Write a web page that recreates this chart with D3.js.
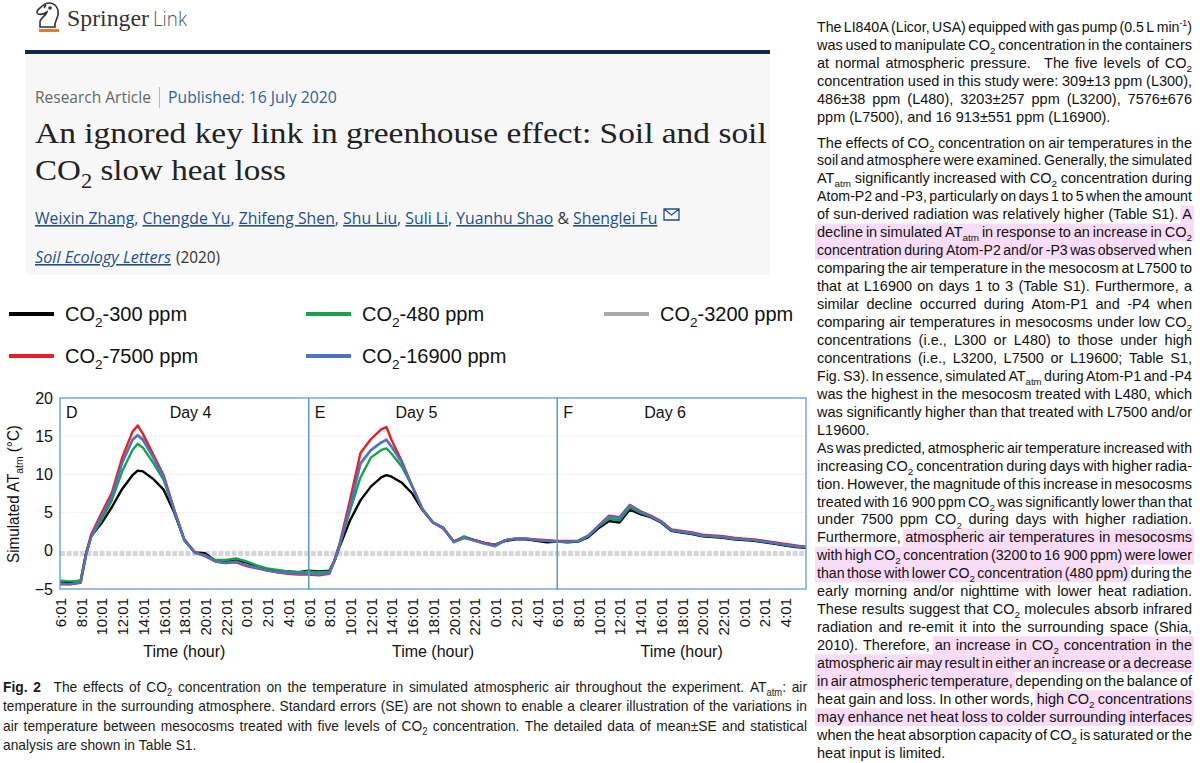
<!DOCTYPE html>
<html>
<head>
<meta charset="utf-8">
<script src="https://cdn.jsdelivr.net/npm/d3@7"></script>
<style>
  body { margin: 0; background: #fff; }
  svg { display: block; }
</style>
</head>
<body>
<svg id="fig" width="1200" height="763"></svg>
<script>
// ---- data ----
const hours = [
  0, 1, 2, 2.5, 3, 4, 5, 6, 7, 7.5, 8, 9, 10, 11, 12, 13, 14, 15, 16, 17, 18, 19, 20, 21, 22, 23, 24,
  25, 26, 26.5, 27, 28, 29, 30, 31, 31.5, 32, 33, 34, 35, 36, 37, 38, 39, 40, 41, 42, 43, 44, 45, 46, 47, 48,
  49, 50, 51, 52, 53, 54, 55, 56, 57, 58, 59, 60, 61, 62, 63, 64, 65, 66, 67, 68, 69, 70, 71, 72
];

const co2_300 = [
  -4.0, -4.1, -3.9, -0.4, 1.9, 3.6, 5.7, 8.1, 9.9, 10.5, 10.4, 9.4, 8.0, 5.1, 1.4, -0.2, -0.3, -1.3, -1.4, -1.2, -1.5, -2.0, -2.4, -2.6, -2.7, -2.8, -2.6,
  -2.7, -2.6, -1.3, 0.6, 4.0, 6.6, 8.4, 9.6, 9.9, 9.7, 8.9, 7.5, 5.3, 3.7, 3.0, 1.2, 1.8, 1.4, 1.0, 0.8, 1.3, 1.5, 1.5, 1.3, 1.1, 1.2,
  1.1, 1.2, 1.8, 3.0, 3.9, 3.7, 5.4, 4.8, 4.4, 3.7, 2.6, 2.4, 2.2, 1.9, 1.8, 1.7, 1.5, 1.4, 1.3, 1.1, 0.9, 0.7, 0.5, 0.4
];
const co2_480 = [
  -3.9, -4.0, -3.9, -0.5, 1.8, 4.0, 6.6, 10.4, 13.2, 14.0, 13.5, 11.5, 9.3, 5.4, 1.4, -0.2, -0.6, -1.2, -1.2, -1.0, -1.4, -1.9, -2.3, -2.5, -2.7, -2.8, -2.7,
  -2.8, -2.7, -1.2, 0.8, 5.3, 9.6, 12.2, 13.2, 13.4, 12.7, 11.0, 8.4, 5.4, 3.7, 3.0, 1.2, 1.9, 1.4, 1.0, 0.8, 1.4, 1.6, 1.6, 1.4, 1.3, 1.2,
  1.2, 1.2, 1.9, 3.2, 4.2, 4.0, 5.7, 5.0, 4.5, 3.8, 2.7, 2.5, 2.3, 2.0, 1.9, 1.8, 1.6, 1.5, 1.4, 1.2, 1.0, 0.8, 0.6, 0.5
];
const co2_3200 = [
  -4.2, -4.3, -4.1, -0.6, 1.9, 4.6, 7.2, 11.6, 14.6, 15.2, 14.7, 12.3, 9.6, 5.4, 1.4, -0.2, -0.6, -1.3, -1.5, -1.3, -1.8, -2.1, -2.5, -2.7, -2.9, -3.0, -3.0,
  -3.0, -2.9, -1.3, 0.8, 5.7, 11.3, 13.1, 14.1, 14.6, 13.7, 11.6, 8.5, 5.4, 3.7, 3.0, 1.2, 1.8, 1.4, 1.0, 0.7, 1.4, 1.6, 1.6, 1.4, 1.3, 1.2,
  1.2, 1.3, 2.0, 3.3, 4.5, 4.3, 6.0, 5.1, 4.5, 3.8, 2.7, 2.5, 2.3, 2.0, 1.9, 1.8, 1.6, 1.5, 1.4, 1.2, 1.0, 0.8, 0.6, 0.5
];
const co2_7500 = [
  -4.4, -4.4, -4.2, -0.5, 2.1, 4.9, 7.6, 12.2, 15.6, 16.4, 15.3, 12.6, 9.9, 5.5, 1.5, -0.2, -0.7, -1.4, -1.6, -1.5, -2.0, -2.3, -2.6, -2.8, -3.0, -3.1, -3.1,
  -3.2, -3.0, -1.2, 1.0, 6.7, 12.8, 14.6, 15.9, 16.2, 14.5, 11.7, 8.4, 5.4, 3.7, 2.9, 1.2, 1.7, 1.4, 1.0, 0.7, 1.4, 1.6, 1.6, 1.5, 1.4, 1.3,
  1.3, 1.3, 2.0, 3.3, 4.6, 4.4, 6.0, 5.2, 4.6, 3.9, 2.8, 2.6, 2.4, 2.1, 2.0, 1.9, 1.7, 1.6, 1.5, 1.3, 1.1, 0.9, 0.7, 0.5
];
const co2_16900 = [
  -4.3, -4.4, -4.1, -0.7, 1.8, 4.5, 7.1, 11.5, 14.5, 15.1, 14.5, 12.2, 9.6, 5.4, 1.4, -0.3, -0.6, -1.4, -1.6, -1.4, -1.9, -2.2, -2.6, -2.8, -2.9, -3.0, -3.0,
  -3.1, -2.9, -1.3, 0.8, 5.8, 11.5, 13.2, 14.2, 14.5, 13.6, 11.5, 8.4, 5.4, 3.7, 3.0, 1.1, 1.7, 1.3, 0.9, 0.6, 1.4, 1.6, 1.6, 1.4, 1.3, 1.2,
  1.2, 1.3, 2.0, 3.3, 4.5, 4.3, 6.0, 5.1, 4.5, 3.8, 2.7, 2.5, 2.3, 2.0, 1.9, 1.8, 1.6, 1.5, 1.4, 1.2, 1.0, 0.8, 0.6, 0.5
];

const seriesKeys = ['300', '480', '3200', '7500', '16900'];
const seriesLabels = ['CO~2~-300 ppm', 'CO~2~-480 ppm', 'CO~2~-3200 ppm', 'CO~2~-7500 ppm', 'CO~2~-16900 ppm'];
const seriesValues = [co2_300, co2_480, co2_3200, co2_7500, co2_16900];

const panelLetters = ['D', 'E', 'F'];
const dayLabels = ['Day 4', 'Day 5', 'Day 6'];
const tickLabels = ['6:01', '8:01', '10:01', '12:01', '14:01', '16:01', '18:01', '20:01', '22:01', '0:01', '2:01', '4:01'];
const yTicks = [-5, 0, 5, 10, 15, 20];
const baseLine = -0.35;

const authors = ['Weixin Zhang', 'Chengde Yu', 'Zhifeng Shen', 'Shu Liu', 'Suli Li', 'Yuanhu Shao', 'Shenglei Fu'];

const captionLines = [
  '*Fig. *2 \u2002The effects of CO~2~ concentration on the temperature in simulated atmospheric air throughout the experiment. AT~atm~: air',
  'temperature in the surrounding atmosphere. Standard errors (SE) are not shown to enable a clearer illustration of the variations in',
  'air temperature between mesocosms treated with five levels of CO~2~ concentration. The detailed data of mean\u00b1SE and statistical',
  'analysis are shown in Table S1.'
];

const bodyPara1 = [
  'The LI840A (Licor, USA) equipped with gas pump (0.5 L min^-1^)',
  'was used to manipulate CO~2~ concentration in the containers',
  'at normal atmospheric pressure. \u2002The five levels of CO~2~',
  'concentration used in this study were: 309\u00b113 ppm (L300),',
  '486\u00b138 ppm (L480), 3203\u00b1257 ppm (L3200), 7576\u00b1676',
  'ppm (L7500), and 16\u00a0913\u00b1551 ppm (L16900).'
];
const bodyPara2 = [
  'The effects of CO~2~ concentration on air temperatures in the',
  'soil and atmosphere were examined. Generally, the simulated',
  'AT~atm~ significantly increased with CO~2~ concentration during',
  'Atom-P2 and -P3, particularly on days 1 to 5 when the amount',
  'of sun-derived radiation was relatively higher (Table S1). \u00abA',
  'decline in simulated AT~atm~ in response to an increase in CO~2~',
  'concentration during Atom-P2 and/or -P3 was observed\u00bb when',
  'comparing the air temperature in the mesocosm at L7500 to',
  'that at L16900 on days 1 to 3 (Table S1). Furthermore, a',
  'similar decline occurred during Atom-P1 and -P4 when',
  'comparing air temperatures in mesocosms under low CO~2~',
  'concentrations (i.e., L300 or L480) to those under high',
  'concentrations (i.e., L3200, L7500 or L19600; Table S1,',
  'Fig. S3). In essence, simulated AT~atm~ during Atom-P1 and -P4',
  'was the highest in the mesocosm treated with L480, which',
  'was significantly higher than that treated with L7500 and/or',
  'L19600.'
];
const bodyPara3 = [
  'As was predicted, atmospheric air temperature increased with',
  'increasing CO~2~ concentration during days with higher radia-',
  'tion. However, the magnitude of this increase in mesocosms',
  'treated with 16\u00a0900 ppm CO~2~ was significantly lower than that',
  'under 7500 ppm CO~2~ during days with higher radiation.',
  'Furthermore, \u00abatmospheric air temperatures in mesocosms',
  'with high CO~2~ concentration (3200 to 16\u00a0900 ppm) were lower',
  'than those with lower CO~2~ concentration (480 ppm)\u00bb during the',
  'early morning and/or nighttime with lower heat radiation.',
  'These results suggest that CO~2~ molecules absorb infrared',
  'radiation and re-emit it into the surrounding space (Shia,',
  '2010). Therefore, \u00aban increase in CO~2~ concentration in the',
  'atmospheric air may result in either an increase or a decrease',
  'in air atmospheric temperature,\u00bb depending on the balance of',
  'heat gain and loss. In other words, \u00abhigh CO~2~ concentrations',
  'may enhance net heat loss to colder surrounding interfaces\u00bb',
  'when the heat absorption capacity of CO~2~ is saturated or the',
  'heat input is limited.'
];

// ---- styles ----
const SANS = "'Liberation Sans', Arial, Helvetica, sans-serif";
const SERIF = "'Liberation Serif', Georgia, 'Times New Roman', serif";
const OPEN = "'Open Sans', 'Liberation Sans', sans-serif";
const colorOf = { '300': '#000000', '480': '#16a34a', '3200': '#a9a9a9', '7500': '#ee1c25', '16900': '#4a74c4' };
const drawOrder = ['3200', '300', '480', '7500', '16900'];
const frameColor = '#5b9bd5';
const linkBlue = '#1d4f8f';

const svg = d3.select('#fig');

// text with ~sub~ and ^sup^ markup
function rich (sel, str, size) {
  const parts = str.split(/(~[^~]*~|\^[^^]*\^)/).filter(s => s.length);
  let shift = 0;
  parts.forEach(p => {
    let dy = 0, fs = null, t = p;
    if (p[0] === '~') { t = p.slice(1, -1); dy = size * 0.28; fs = size * 0.68; }
    else if (p[0] === '^') { t = p.slice(1, -1); dy = -size * 0.4; fs = size * 0.62; }
    const ts = sel.append('tspan').text(t).attr('dy', dy - shift);
    if (fs) ts.attr('font-size', fs);
    shift = dy;
  });
  return sel;
}

function label (parent, x, y, str, opts = {}) {
  const { size = 15, family = SANS, weight = null, fill = '#111', anchor = 'start',
    width = null, rotate = 0, italic = false } = opts;
  const g = parent.append('g')
    .attr('transform', `translate(${x},${y})` + (rotate ? ` rotate(${rotate})` : ''));
  const t = g.append('text')
    .attr('font-size', size)
    .attr('font-family', family)
    .attr('font-weight', weight)
    .attr('font-style', italic ? 'italic' : null)
    .attr('fill', fill)
    .attr('text-anchor', anchor);
  rich(t, str, size);
  if (width) {
    const w = t.node().getComputedTextLength();
    t.attr('transform', `scale(${width / w},1)`);
  }
  return t;
}

// justified block of lines; «...» marks highlighted runs, *word is bold
function justify (parent, paras, opts) {
  const { x, width, lh, size, family = SANS, sx = 1, fill = '#111', hl = '#f8dcf6' } = opts;
  let y = opts.y;
  let on = false;
  paras.forEach(lines => {
    lines.forEach((line, i) => {
      const last = i === lines.length - 1;
      const row = parent.append('g');
      const back = row.append('g');
      const words = line.split(' ').filter(w => w.length).map(raw => {
        let w = raw, bold = false, start = false, end = false;
        if (w.startsWith('\u00ab')) { start = true; w = w.slice(1); }
        if (w.endsWith('\u00bb')) { end = true; w = w.slice(0, -1); }
        if (w.startsWith('*')) { bold = true; w = w.slice(1); }
        if (start) on = true;
        const lit = on;
        if (end) on = false;
        const t = row.append('text')
          .attr('font-size', size)
          .attr('font-family', family)
          .attr('font-weight', bold ? 'bold' : null)
          .attr('fill', fill);
        rich(t, w, size);
        return { t, w: t.node().getComputedTextLength(), lit };
      });
      const natural = d3.sum(words, d => d.w);
      const space = size * 0.278;
      let s = sx;
      let gap = space * sx;
      if (!last && words.length > 1) {
        s = Math.min(sx, (width - space * 0.6 * (words.length - 1)) / natural);
        gap = (width - natural * s) / (words.length - 1);
      }
      let cx = x;
      words.forEach(d => {
        d.x = cx;
        d.t.attr('transform', `translate(${cx},${y}) scale(${s},1)`);
        d.end = cx + d.w * s;
        cx = d.end + gap;
      });
      let run = null;
      const runs = [];
      words.forEach(d => {
        if (d.lit) {
          if (!run) { run = { x0: d.x, x1: d.end }; runs.push(run); } else run.x1 = d.end;
        } else run = null;
      });
      back.selectAll('rect')
        .data(runs)
        .join('rect')
          .attr('x', r => r.x0 - 2)
          .attr('width', r => r.x1 - r.x0 + 4)
          .attr('y', y - size * 0.95)
          .attr('height', lh)
          .attr('fill', hl);
      y += lh;
    });
  });
  return y;
}

// ---- header ----
const head = svg.append('g');
head.append('path')
  .attr('d', 'M40,27 L40,22 C40,18 46,16 47,12 C44,14 41,15 38,14 C36,13 37,10 40,8 C43,5 45,3 49,3 C55,3 59,8 58,15 C57,20 54,22 55,27 Z M44,8 L46,5 M50,9 A1,1 0 1 1 50.1,9')
  .attr('fill', 'none')
  .attr('stroke', '#333')
  .attr('stroke-width', 1.6);
head.append('rect').attr('x', 39).attr('y', 29).attr('width', 20).attr('height', 3).attr('fill', '#e8782a');
label(head, 67, 26, 'Springer', { size: 24, family: SERIF, fill: '#333', width: 82 });
label(head, 153, 26, 'Link', { size: 21, family: OPEN, fill: '#555', weight: 300, width: 34 });

head.append('rect').attr('x', 25).attr('y', 55).attr('width', 745).attr('height', 220).attr('fill', '#f7f7f7');
head.append('rect').attr('x', 25).attr('y', 50).attr('width', 745).attr('height', 4).attr('fill', '#15284a');

label(head, 35, 103, 'Research Article', { size: 16, family: OPEN, fill: '#666', width: 116 });
head.append('line').attr('x1', 159.5).attr('x2', 159.5).attr('y1', 87).attr('y2', 108).attr('stroke', '#bbb');
label(head, 168, 103, 'Published: 16 July 2020', { size: 16, family: OPEN, fill: '#2f6299', width: 169 });

label(head, 35, 143, 'An ignored key link in greenhouse effect: Soil and soil', { size: 30, family: SERIF, fill: '#222', width: 732 });
label(head, 35, 180, 'CO~2~ slow heat loss', { size: 30, family: SERIF, fill: '#222', width: 251 });

const au = head.append('text')
  .attr('x', 35).attr('y', 224)
  .attr('font-size', 16).attr('font-family', OPEN).attr('fill', linkBlue);
authors.forEach((a, i) => {
  au.append('tspan').text(a).style('text-decoration', 'underline');
  if (i < authors.length - 2) au.append('tspan').text(', ');
  else if (i === authors.length - 2) au.append('tspan').attr('fill', '#333').text(' & ');
});
const auW = au.node().getComputedTextLength();
au.attr('transform', `translate(35,224) scale(${623 / auW},1) translate(-35,-224)`);
head.append('path')
  .attr('d', 'M664,209 h15 v11 h-15 Z M664,209 l7.5,6 l7.5,-6')
  .attr('fill', 'none').attr('stroke', linkBlue).attr('stroke-width', 1.3);

const jt = label(head, 35, 263, 'Soil Ecology Letters', { size: 16, family: OPEN, fill: linkBlue, italic: true, width: 136 });
jt.style('text-decoration', 'underline');
label(head, 176, 263, '(2020)', { size: 16, family: OPEN, fill: '#333', width: 44 });

// ---- legend ----
const legend = svg.append('g').attr('font-family', SANS);
const legendCols = [9, 306, 604];
const legendRows = [314, 356];
seriesKeys.forEach((k, i) => {
  const lx = legendCols[i % 3];
  const ly = legendRows[Math.floor(i / 3)];
  legend.append('line')
    .attr('x1', lx).attr('x2', lx + 45).attr('y1', ly).attr('y2', ly)
    .attr('stroke', colorOf[k]).attr('stroke-width', 4);
  label(legend, lx + 56, ly + 7, seriesLabels[i], { size: 20, fill: '#111' });
});

// ---- chart ----
const x = d3.scaleLinear().domain([0, 72]).range([60, 806]);
const y = d3.scaleLinear().domain([-5, 20]).range([589, 398]);
const chart = svg.append('g');

chart.append('g')
  .selectAll('line')
  .data([5, 10, 15])
  .join('line')
    .attr('x1', x(0)).attr('x2', x(72))
    .attr('y1', d => y(d)).attr('y2', d => y(d))
    .attr('stroke', '#f1f1f1');

chart.append('line')
  .attr('x1', x(0)).attr('x2', x(72))
  .attr('y1', y(baseLine)).attr('y2', y(baseLine))
  .attr('stroke', '#d6d6d6')
  .attr('stroke-width', 5)
  .attr('stroke-dasharray', '5,1.6');

chart.append('clipPath').attr('id', 'plot')
  .append('rect').attr('x', x(0)).attr('y', y(20)).attr('width', x(72) - x(0)).attr('height', y(-5) - y(20));

const line = d3.line()
  .x(d => x(d[0]))
  .y(d => y(d[1]));

chart.append('g')
  .attr('clip-path', 'url(#plot)')
  .selectAll('path')
  .data(drawOrder.map(k => ({ k, pts: hours.map((h, i) => [h, seriesValues[seriesKeys.indexOf(k)][i]]) })))
  .join('path')
    .attr('d', d => line(d.pts))
    .attr('fill', 'none')
    .attr('stroke', d => colorOf[d.k])
    .attr('stroke-width', 2.4)
    .attr('stroke-linejoin', 'round');

chart.append('g')
  .selectAll('rect')
  .data(panelLetters)
  .join('rect')
    .attr('x', (d, i) => x(24 * i))
    .attr('width', x(24) - x(0))
    .attr('y', y(20))
    .attr('height', y(-5) - y(20))
    .attr('fill', 'none')
    .attr('stroke', frameColor)
    .attr('stroke-width', 1.3);

panelLetters.forEach((p, i) => {
  label(chart, x(24 * i) + 6, 418, p, { size: 16 });
  label(chart, x(24 * i + [12.6, 10.4, 10.4][i]), 418, dayLabels[i], { size: 16, anchor: 'middle' });
  label(chart, x(24 * i + 12), 657, 'Time (hour)', { size: 16, anchor: 'middle' });
});

const yAxis = chart.append('g')
  .attr('transform', `translate(${x(0)},0)`)
  .call(d3.axisLeft(y).tickValues(yTicks).tickSize(0).tickPadding(7)
    .tickFormat(d => d < 0 ? '\u2212' + Math.abs(d) : d));
yAxis.select('.domain').remove();
yAxis.attr('font-size', 16).attr('font-family', SANS);
yAxis.selectAll('text').attr('fill', '#111');

const xAxis = chart.append('g')
  .attr('transform', `translate(0,${y(-5)})`)
  .call(d3.axisBottom(x).tickValues(d3.range(0, 72, 2)).tickSize(0)
    .tickFormat(h => tickLabels[(h / 2) % 12]));
xAxis.select('.domain').remove();
xAxis.attr('font-size', 15).attr('font-family', SANS);
xAxis.selectAll('text')
  .attr('fill', '#111')
  .attr('transform', 'rotate(-90)')
  .attr('x', -9)
  .attr('y', 0)
  .attr('dy', '0.36em')
  .style('text-anchor', 'end');

label(chart, 19, 494, 'Simulated AT~atm~ (\u00b0C)', { size: 16, anchor: 'middle', rotate: -90, width: 138 });

// ---- caption ----
justify(svg.append('g'), [captionLines], { x: 3, width: 804, y: 692, lh: 19.4, size: 15, sx: 0.92, fill: '#1a1a1a' });

// ---- right column ----
const col = svg.append('g');
justify(col, [bodyPara1], { x: 817, width: 375, y: 31.5, lh: 18, size: 14.5, fill: '#111' });
justify(col, [bodyPara2, bodyPara3], { x: 817, width: 375, y: 147.5, lh: 17.95, size: 14.5, fill: '#111' });
</script>
</body>
</html>
